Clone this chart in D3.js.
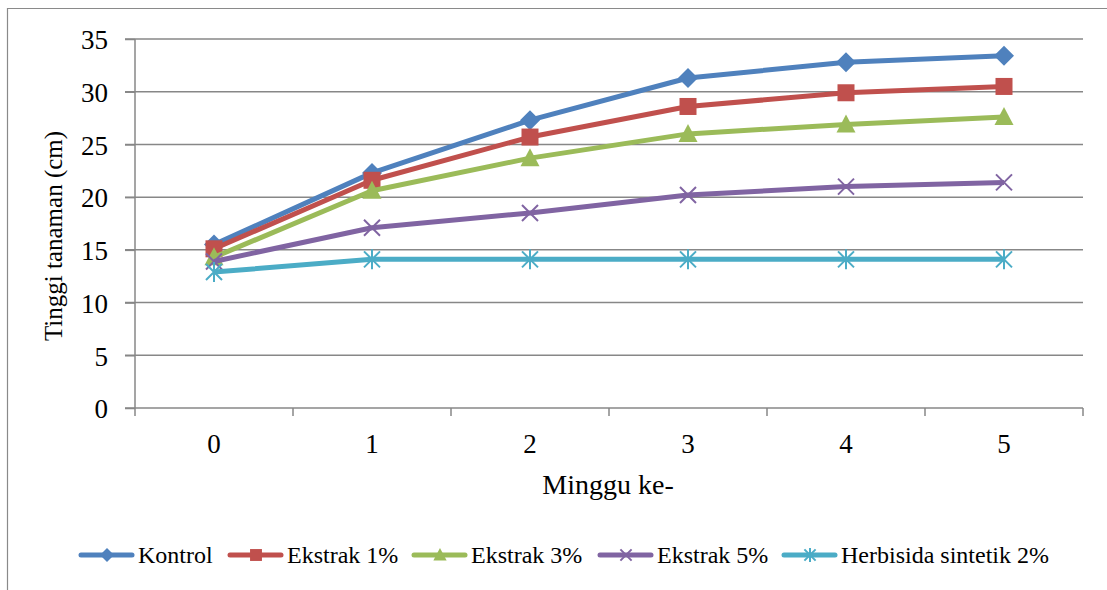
<!DOCTYPE html>
<html><head><meta charset="utf-8">
<script src="https://cdn.jsdelivr.net/npm/d3@7"></script>
<style>body{margin:0;background:#fff}svg{display:block}</style>
</head><body>
<svg id="c" width="1107" height="590"></svg>
<script>
const categories = ["0","1","2","3","4","5"];
const seriesNames = ["Kontrol","Ekstrak 1%","Ekstrak 3%","Ekstrak 5%","Herbisida sintetik 2%"];
const kontrol   = [15.5, 22.3, 27.3, 31.3, 32.8, 33.4];
const ekstrak1  = [15.1, 21.6, 25.7, 28.6, 29.9, 30.5];
const ekstrak3  = [14.3, 20.6, 23.7, 26.0, 26.9, 27.6];
const ekstrak5  = [13.9, 17.1, 18.5, 20.2, 21.0, 21.4];
const herbisida = [12.9, 14.1, 14.1, 14.1, 14.1, 14.1];
const yTicks = [0,5,10,15,20,25,30,35];
const colors = ["#4F81BD","#C0504D","#9BBB59","#8064A2","#4BACC6"];
const markers = ["diamond","square","triangle","x","star"];
const allSeries = [kontrol, ekstrak1, ekstrak3, ekstrak5, herbisida];

const svg = d3.select("#c");
const FF = "Times New Roman";
const L = 135, R = 1083, T = 39, B = 408;
const x = d3.scaleBand().domain(categories).range([L, R]);
const y = d3.scaleLinear().domain([0,35]).range([B, T]);
const grid = "#878787";

// outer border
svg.append("path").attr("d","M7.5,590 L7.5,8.5 L1107,8.5").attr("fill","none").attr("stroke","#8a8a8a").attr("stroke-width",1.2);

// gridlines
svg.append("g").selectAll("line").data(yTicks.filter(d=>d>0)).join("line")
  .attr("x1", L-10).attr("x2", R).attr("y1", d=>y(d)).attr("y2", d=>y(d))
  .attr("stroke", grid).attr("stroke-width", 1.5);

// y axis
const ya = svg.append("g").attr("transform",`translate(${L},0)`)
  .call(d3.axisLeft(y).tickValues(yTicks).tickSize(10).tickPadding(17).tickFormat(d3.format("d")));
ya.attr("font-family", FF);
ya.select(".domain").attr("stroke",grid).attr("stroke-width",1.5).attr("d",`M0,${T}V${B}`);
ya.selectAll(".tick line").attr("stroke",grid).attr("stroke-width",1.5);
ya.selectAll("text").attr("font-family",FF).attr("font-size",27).attr("fill","#000").attr("dy","0.36em");

// x axis
const xa = svg.append("g").attr("transform",`translate(0,${B})`)
  .call(d3.axisBottom(x).tickSize(0));
xa.attr("font-family", FF);
xa.select(".domain").attr("stroke",grid).attr("stroke-width",1.5).attr("d",`M${L-10},0H${R}`);
xa.selectAll("text").attr("font-family",FF).attr("font-size",27).attr("fill","#000").attr("y",45).attr("dy",0);
const bounds = categories.map(c=>x(c)).concat([R]);
xa.selectAll(".bt").data(bounds).join("line").attr("class","bt")
  .attr("x1",d=>d).attr("x2",d=>d).attr("y1",0).attr("y2",8)
  .attr("stroke",grid).attr("stroke-width",1.5);

// titles
svg.append("text").attr("x",608).attr("y",494).attr("text-anchor","middle")
  .attr("font-family",FF).attr("font-size",28).attr("fill","#000").text("Minggu ke-");
svg.append("text").attr("transform","translate(62,236) rotate(-90)").attr("text-anchor","middle")
  .attr("font-family",FF).attr("font-size",25).attr("fill","#000").text("Tinggi tanaman (cm)");

function drawMarker(g, type, color, s) {
  if (type==="diamond") {
    g.append("path").attr("d",`M0,${-s}L${s},0L0,${s}L${-s},0Z`).attr("fill",color);
  } else if (type==="square") {
    g.append("rect").attr("x",-s*0.85).attr("y",-s*0.85).attr("width",s*1.7).attr("height",s*1.7).attr("fill",color);
  } else if (type==="triangle") {
    g.append("path").attr("d",`M0,${-s}L${s*0.95},${s*0.8}L${-s*0.95},${s*0.8}Z`).attr("fill",color);
  } else if (type==="x") {
    const k = s*0.8;
    g.append("path").attr("d",`M${-k},${-k}L${k},${k}M${-k},${k}L${k},${-k}`).attr("stroke",color).attr("stroke-width",2);
  } else {
    const k = s*0.8;
    g.append("path").attr("d",`M${-k},${-k}L${k},${k}M${-k},${k}L${k},${-k}M0,${-s}L0,${s}`).attr("stroke",color).attr("stroke-width",2);
  }
}

const line = d3.line().x((d,i)=>x(categories[i])+x.bandwidth()/2).y(d=>y(d));
allSeries.forEach((vals, si) => {
  const g = svg.append("g");
  g.append("path").datum(vals).attr("d", line).attr("fill","none")
    .attr("stroke", colors[si]).attr("stroke-width", 5).attr("stroke-linejoin","round");
  vals.forEach((v,i)=>{
    const mg = g.append("g").attr("transform",`translate(${x(categories[i])+x.bandwidth()/2},${y(v)})`);
    drawMarker(mg, markers[si], colors[si], 10);
  });
});

// legend
const legX = [79, 228, 412, 598, 782];
const legY = 555;
seriesNames.forEach((n, i) => {
  const g = svg.append("g").attr("transform",`translate(${legX[i]},${legY})`);
  g.append("line").attr("x1",2).attr("x2",53).attr("y1",0).attr("y2",0)
    .attr("stroke",colors[i]).attr("stroke-width",5).attr("stroke-linecap","round");
  const mg = g.append("g").attr("transform","translate(28,0)");
  drawMarker(mg, markers[i], colors[i], 7);
  g.append("text").attr("x",59).attr("y",8).attr("font-family",FF).attr("font-size",24).attr("fill","#000").text(n);
});
</script>
</body></html>
